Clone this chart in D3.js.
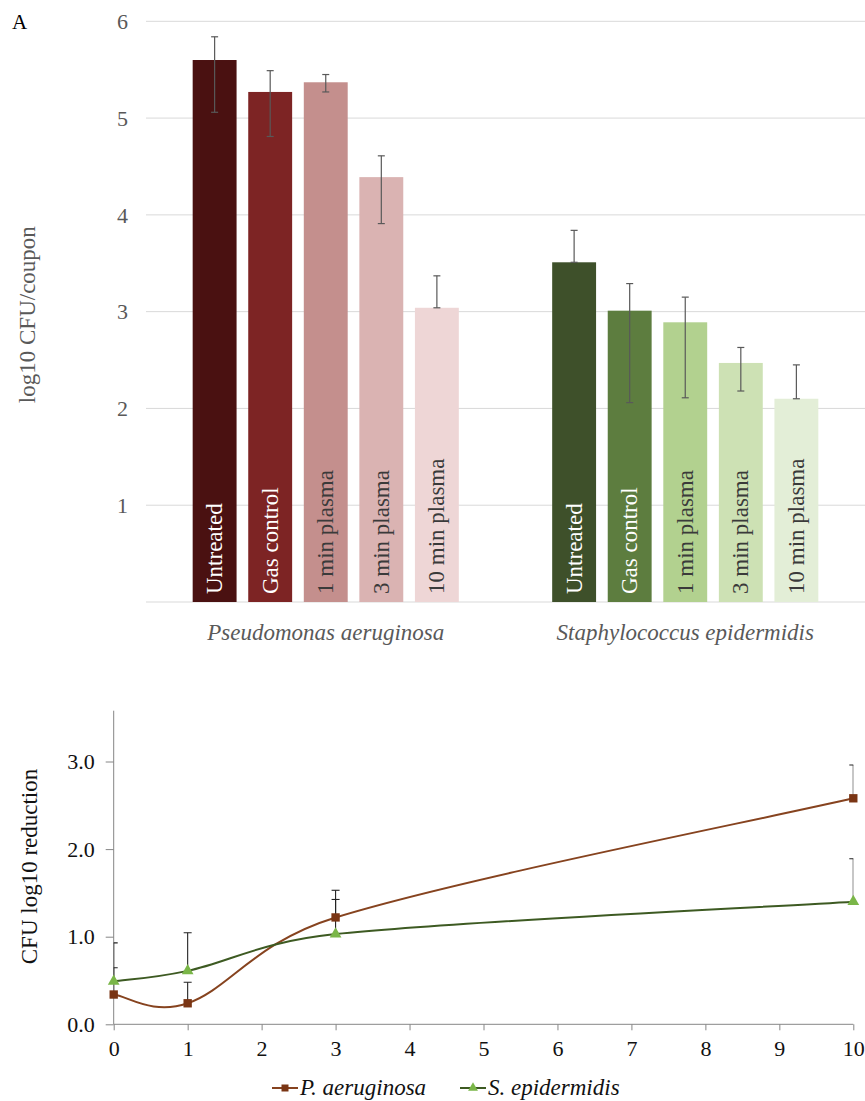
<!DOCTYPE html>
<html lang="en">
<head>
  <meta charset="UTF-8">
  <title>CFU counts and log10 reduction</title>
  <style>
    body { margin: 0; background: #fff; }
    svg { display: block; font-family: 'Liberation Serif', 'Times New Roman', serif; }
    .grid line { stroke: #d9d9d9; stroke-width: 1; }
    .tick-top { font-size: 22px; fill: #595959; }
    .bar-label { font-size: 23px; }
    .cat-label { font-size: 23px; fill: #595959; font-style: italic; }
    .err { stroke: #595959; stroke-width: 1.2; fill: none; }
    .err2 { stroke: #222; stroke-width: 1.1; fill: none; }
    .axis2 path, .axis2 line { stroke: #868686; }
    .axis2 text { font-size: 22px; fill: #111; }
    .legend text { font-size: 23px; font-style: italic; fill: #111; }
  </style>
</head>
<body>
  <svg id="fig" width="865" height="1101"></svg>

  <script src="https://d3js.org/d3.v7.min.js"></script>
  <script>
    // ---- panel A data ----
    const organisms = ['Pseudomonas aeruginosa', 'Staphylococcus epidermidis'];
    const treatments = ['Untreated', 'Gas control', '1 min plasma', '3 min plasma', '10 min plasma'];
    const paMeans = [5.60, 5.27, 5.37, 4.39, 3.04];
    const paErrUp = [0.24, 0.22, 0.08, 0.22, 0.33];
    const paErrDown = [0.54, 0.46, 0.10, 0.48, 0.00];
    const seMeans = [3.51, 3.01, 2.89, 2.47, 2.10];
    const seErrUp = [0.33, 0.28, 0.26, 0.16, 0.35];
    const seErrDown = [0.00, 0.95, 0.78, 0.29, 0.00];
    const paColors = ['#4a1111', '#7d2424', '#c48f8d', '#dab3b2', '#eed6d6'];
    const seColors = ['#3e502a', '#5d7d3f', '#b2d18f', '#cde1b4', '#e3eed7'];
    const labelColors = ['#ffffff', '#ffffff', '#3a3a3a', '#3a3a3a', '#3a3a3a'];
    const topTicks = [1, 2, 3, 4, 5, 6];

    // ---- panel B data ----
    const minutes = [0, 1, 3, 10];
    const paReduction = [0.34, 0.24, 1.22, 2.58];
    const paReductionErr = [0.305, 0.24, 0.31, 0.38];
    const seReduction = [0.49, 0.61, 1.03, 1.40];
    const seReductionErr = [0.44, 0.435, 0.395, 0.49];
    const xTicksB = [0, 1, 2, 3, 4, 5, 6, 7, 8, 9, 10];
    const yTicksB = [0, 1, 2, 3];
    const legendNames = ['P. aeruginosa', 'S. epidermidis'];

    const svg = d3.select('#fig');
    const serif = "'Liberation Serif', 'Times New Roman', serif";

    // spreadsheet-style smoothed line: cardinal tangents, control arms
    // limited to half of the adjacent segment so nothing loops
    function smoothCurve(context) {
      let pts;
      const k = 0.19, lim = 0.5;
      function arm(dx, dy, segLen) {
        const len = Math.hypot(dx, dy);
        const max = lim * segLen;
        return len > max && len > 0 ? [dx * max / len, dy * max / len] : [dx, dy];
      }
      return {
        areaStart() {}, areaEnd() {},
        lineStart() { pts = []; },
        point(x, y) { pts.push([+x, +y]); },
        lineEnd() {
          const n = pts.length;
          if (!n) return;
          context.moveTo(pts[0][0], pts[0][1]);
          for (let i = 0; i < n - 1; i++) {
            const p0 = pts[Math.max(i - 1, 0)], p1 = pts[i], p2 = pts[i + 1], p3 = pts[Math.min(i + 2, n - 1)];
            const seg = Math.hypot(p2[0] - p1[0], p2[1] - p1[1]);
            const a = arm((p2[0] - p0[0]) * k, (p2[1] - p0[1]) * k, seg);
            const b = arm((p3[0] - p1[0]) * k, (p3[1] - p1[1]) * k, seg);
            context.bezierCurveTo(p1[0] + a[0], p1[1] + a[1], p2[0] - b[0], p2[1] - b[1], p2[0], p2[1]);
          }
        }
      };
    }

    // ================= Panel A: grouped bars =================
    const x0 = d3.scaleBand().domain(organisms).range([146, 865]);
    const x1 = d3.scaleBand().domain(treatments).range([0, x0.bandwidth()])
      .paddingInner(0.21).paddingOuter(0.84);
    const y = d3.scaleLinear().domain([0, 6]).range([602, 21.3]);

    svg.append('text').attr('x', 12).attr('y', 29)
      .style('font-size', '21px').style('fill', '#000').text('A');

    // gridlines (incl. baseline)
    svg.append('g').attr('class', 'grid')
      .selectAll('line').data([0].concat(topTicks)).join('line')
      .attr('x1', 146).attr('x2', 865)
      .attr('y1', d => y(d)).attr('y2', d => y(d));

    svg.append('g').selectAll('text').data(topTicks).join('text')
      .attr('class', 'tick-top')
      .attr('x', 128).attr('y', d => y(d)).attr('dy', '0.35em')
      .attr('text-anchor', 'end').text(d => d);

    svg.append('text')
      .attr('transform', `translate(35,${(y(0) + y(6)) / 2 + 3}) rotate(-90)`)
      .attr('text-anchor', 'middle')
      .style('font-size', '23px').style('fill', '#595959')
      .text('log10 CFU/coupon');

    const groups = [
      { org: organisms[0], means: paMeans, up: paErrUp, down: paErrDown, colors: paColors },
      { org: organisms[1], means: seMeans, up: seErrUp, down: seErrDown, colors: seColors }
    ];

    groups.forEach(grp => {
      const rows = treatments.map((t, i) => ({
        t, v: grp.means[i], up: grp.up[i], down: grp.down[i], c: grp.colors[i], lc: labelColors[i]
      }));
      const g = svg.append('g').attr('transform', `translate(${x0(grp.org)},0)`);
      const cx = d => x1(d.t) + x1.bandwidth() / 2;

      g.selectAll('rect').data(rows).join('rect')
        .attr('x', d => x1(d.t)).attr('width', x1.bandwidth())
        .attr('y', d => y(d.v)).attr('height', d => y(0) - y(d.v))
        .attr('fill', d => d.c);

      g.selectAll('.bar-label').data(rows).join('text')
        .attr('class', 'bar-label')
        .attr('transform', d => `translate(${cx(d)},${y(0) - 8}) rotate(-90)`)
        .attr('dy', '0.33em')
        .attr('fill', d => d.lc)
        .text(d => d.t);

      const eb = g.selectAll('.eb').data(rows).join('g').attr('class', 'err');
      eb.append('line')
        .attr('x1', cx).attr('x2', cx)
        .attr('y1', d => y(d.v + d.up)).attr('y2', d => y(d.v - d.down));
      eb.append('line')
        .attr('x1', d => cx(d) - 3.5).attr('x2', d => cx(d) + 3.5)
        .attr('y1', d => y(d.v + d.up)).attr('y2', d => y(d.v + d.up));
      eb.append('line')
        .attr('x1', d => cx(d) - 3.5).attr('x2', d => cx(d) + 3.5)
        .attr('y1', d => y(d.v - d.down)).attr('y2', d => y(d.v - d.down));

      svg.append('text').attr('class', 'cat-label')
        .attr('x', x0(grp.org) + x0.bandwidth() / 2).attr('y', 640)
        .attr('text-anchor', 'middle').text(grp.org);
    });

    // ================= Panel B: smoothed lines =================
    const xB = d3.scaleLinear().domain([0, 10]).range([113.7, 853.3]);
    const yB = d3.scaleLinear().domain([0, 3.58]).range([1024.3, 710.7]);

    svg.append('defs').append('clipPath').attr('id', 'plotB')
      .append('rect').attr('x', xB(0)).attr('y', 690)
      .attr('width', xB(10) - xB(0)).attr('height', yB(0) - 690);

    svg.append('g').attr('class', 'axis2')
      .attr('transform', `translate(0,${yB(0)})`)
      .call(d3.axisBottom(xB).tickValues(xTicksB).tickSize(6).tickPadding(10).tickFormat(d3.format('d')))
      .attr('font-family', serif).attr('font-size', 22)
      .call(g => g.select('.domain').attr('d', `M${xB(0)},0H${xB(10)}`));

    svg.append('g').attr('class', 'axis2')
      .attr('transform', `translate(${xB(0)},0)`)
      .call(d3.axisLeft(yB).tickValues(yTicksB).tickSize(8).tickPadding(11).tickFormat(d3.format('.1f')))
      .attr('font-family', serif).attr('font-size', 22)
      .call(g => g.select('.domain').attr('d', `M0,${yB(0)}V${yB(3.58)}`));

    svg.append('text')
      .attr('transform', `translate(37,${(yB(0) + yB(3.58)) / 2 - 1}) rotate(-90)`)
      .attr('text-anchor', 'middle')
      .style('font-size', '23px').style('fill', '#111')
      .text('CFU log10 reduction');

    const series = [
      { vals: paReduction, err: paReductionErr, line: '#86431f', mark: '#7a3514', shape: d3.symbolSquare, size: 70 },
      { vals: seReduction, err: seReductionErr, line: '#3d5a22', mark: '#7ab648', shape: d3.symbolTriangle, size: 60 }
    ];

    const lineGen = d3.line()
      .x(d => xB(d[0])).y(d => yB(d[1]))
      .curve(smoothCurve);

    // error bars (plus side only), clipped at plot edges
    const errG = svg.append('g').attr('clip-path', 'url(#plotB)').attr('class', 'err2');
    series.forEach(s => {
      minutes.forEach((m, i) => {
        const top = s.vals[i] + s.err[i];
        errG.append('line').attr('x1', xB(m)).attr('x2', xB(m))
          .attr('y1', yB(s.vals[i])).attr('y2', yB(top));
        errG.append('line').attr('x1', xB(m) - 4).attr('x2', xB(m) + 4)
          .attr('y1', yB(top)).attr('y2', yB(top));
      });
    });

    series.forEach(s => {
      const pts = minutes.map((m, i) => [m, s.vals[i]]);
      svg.append('path').datum(pts)
        .attr('d', lineGen)
        .attr('fill', 'none').attr('stroke', s.line).attr('stroke-width', 2);
    });

    series.forEach(s => {
      svg.append('g').selectAll('path').data(minutes.map((m, i) => [m, s.vals[i]])).join('path')
        .attr('transform', d => `translate(${xB(d[0])},${yB(d[1])})`)
        .attr('d', d3.symbol().type(s.shape).size(s.size))
        .attr('fill', s.mark);
    });

    // legend
    const legendX = [272, 460];
    const leg = svg.append('g').attr('class', 'legend');
    series.forEach((s, i) => {
      const lx = legendX[i];
      leg.append('line').attr('x1', lx).attr('x2', lx + 26)
        .attr('y1', 1088).attr('y2', 1088)
        .attr('stroke', s.line).attr('stroke-width', 2);
      leg.append('path')
        .attr('transform', `translate(${lx + 13},1088)`)
        .attr('d', d3.symbol().type(s.shape).size(s.size * 0.7))
        .attr('fill', s.mark);
      leg.append('text').attr('x', lx + 28).attr('y', 1095).text(legendNames[i]);
    });
  </script>
</body>
</html>
